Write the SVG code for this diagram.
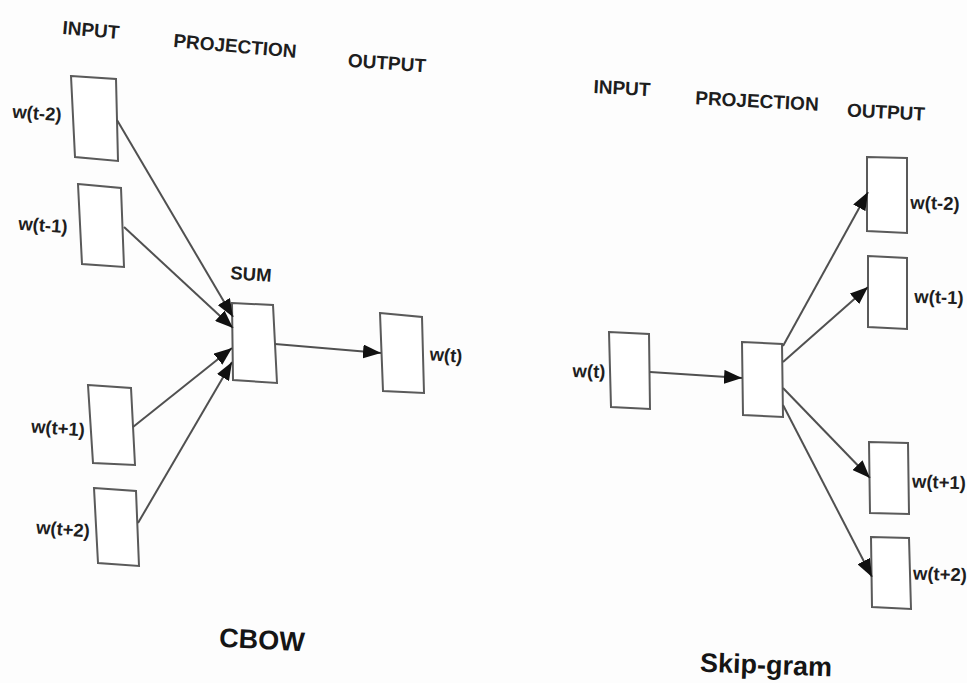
<svg xmlns="http://www.w3.org/2000/svg" width="967" height="683" viewBox="0 0 967 683">
<defs>
<marker id="ah" markerUnits="userSpaceOnUse" markerWidth="19" markerHeight="14" refX="18" refY="7" orient="auto">
<path d="M0,0 L18,7 L0,14 Z" fill="#111"/>
</marker>
<style>
.box{fill:#fff;stroke:#5a5a5a;stroke-width:2}
.edge{stroke:#505050;stroke-width:2;fill:none;marker-end:url(#ah)}
.lbl{font-family:"Liberation Sans",Arial,sans-serif;font-weight:bold;font-size:18.5px;fill:#1e1e1e;text-anchor:middle;dominant-baseline:central}
.hdr{font-family:"Liberation Sans",Arial,sans-serif;font-weight:bold;font-size:19px;fill:#1e1e1e;text-anchor:middle;dominant-baseline:central}
.title{font-family:"Liberation Sans",Arial,sans-serif;font-weight:bold;font-size:27px;fill:#151515;text-anchor:middle;dominant-baseline:central}
</style>
</defs>
<rect width="967" height="683" fill="#fdfdfd"/>

<g id="cbow-headers">
<text class="hdr" x="91" y="30" transform="rotate(5 91 30)">INPUT</text>
<text class="hdr" x="235" y="46" transform="rotate(5 235 46)">PROJECTION</text>
<text class="hdr" x="387" y="63" transform="rotate(4 387 63)">OUTPUT</text>
</g>

<g id="cbow-in-tm2">
<polygon class="box" points="71,76 116,79 118,161 75,157"/>
<text class="lbl" x="37" y="113" transform="rotate(4 37 113)">w(t-2)</text>
</g>
<g id="cbow-in-tm1">
<polygon class="box" points="78,184 121,188 124,267 82,264"/>
<text class="lbl" x="43" y="225" transform="rotate(4 43 225)">w(t-1)</text>
</g>
<g id="cbow-in-tp1">
<polygon class="box" points="88,385 131,388 135,465 93,463"/>
<text class="lbl" x="58" y="428" transform="rotate(4 58 428)">w(t+1)</text>
</g>
<g id="cbow-in-tp2">
<polygon class="box" points="94,488 136,491 139,566 98,563"/>
<text class="lbl" x="63" y="529" transform="rotate(4 63 529)">w(t+2)</text>
</g>
<g id="cbow-sum">
<polygon class="box" points="232,303 273,305 277,383 233,380"/>
<text class="lbl" x="251" y="274" transform="rotate(4 251 274)">SUM</text>
</g>
<g id="cbow-out">
<polygon class="box" points="380,313 422,317 424,393 383,391"/>
<text class="lbl" x="446" y="355" transform="rotate(4 446 355)">w(t)</text>
</g>
<g id="cbow-title">
<text class="title" x="262" y="640" transform="rotate(3 262 640)">CBOW</text>
</g>

<g id="sg-headers">
<text class="hdr" x="622" y="88" transform="rotate(3 622 88)">INPUT</text>
<text class="hdr" x="757" y="101" transform="rotate(3 757 101)">PROJECTION</text>
<text class="hdr" x="886" y="112" transform="rotate(3 886 112)">OUTPUT</text>
</g>
<g id="sg-in">
<polygon class="box" points="609,332 649,334 650,409 611,407"/>
<text class="lbl" x="589" y="371" transform="rotate(2 589 371)">w(t)</text>
</g>
<g id="sg-proj">
<polygon class="box" points="742,342 782,344 783,417 743,415"/>
</g>
<g id="sg-out-tm2">
<polygon class="box" points="867,157 907,158 907,233 867,231"/>
<text class="lbl" x="935" y="203" transform="rotate(2 935 203)">w(t-2)</text>
</g>
<g id="sg-out-tm1">
<polygon class="box" points="868,256 907,258 907,329 868,327"/>
<text class="lbl" x="939" y="297" transform="rotate(2 939 297)">w(t-1)</text>
</g>
<g id="sg-out-tp1">
<polygon class="box" points="869,442 908,443 909,514 870,513"/>
<text class="lbl" x="939" y="482" transform="rotate(2 939 482)">w(t+1)</text>
</g>
<g id="sg-out-tp2">
<polygon class="box" points="871,537 909,538 911,609 872,607"/>
<text class="lbl" x="940" y="574" transform="rotate(2 940 574)">w(t+2)</text>
</g>
<g id="sg-title">
<text class="title" x="766" y="665" transform="rotate(2 766 665)">Skip-gram</text>
</g>

<g id="connectors">
<line class="edge" x1="117" y1="120" x2="233" y2="317"/>
<line class="edge" x1="124" y1="227" x2="233" y2="328"/>
<line class="edge" x1="133" y1="427" x2="232" y2="348"/>
<line class="edge" x1="138" y1="523" x2="232" y2="362"/>
<line class="edge" x1="275" y1="344" x2="381" y2="353"/>
<line class="edge" x1="650" y1="372" x2="742" y2="378"/>
<line class="edge" x1="783" y1="346" x2="868" y2="192"/>
<line class="edge" x1="783" y1="362" x2="868" y2="287"/>
<line class="edge" x1="783" y1="388" x2="870" y2="478"/>
<line class="edge" x1="783" y1="405" x2="872" y2="577"/>
</g>
</svg>
